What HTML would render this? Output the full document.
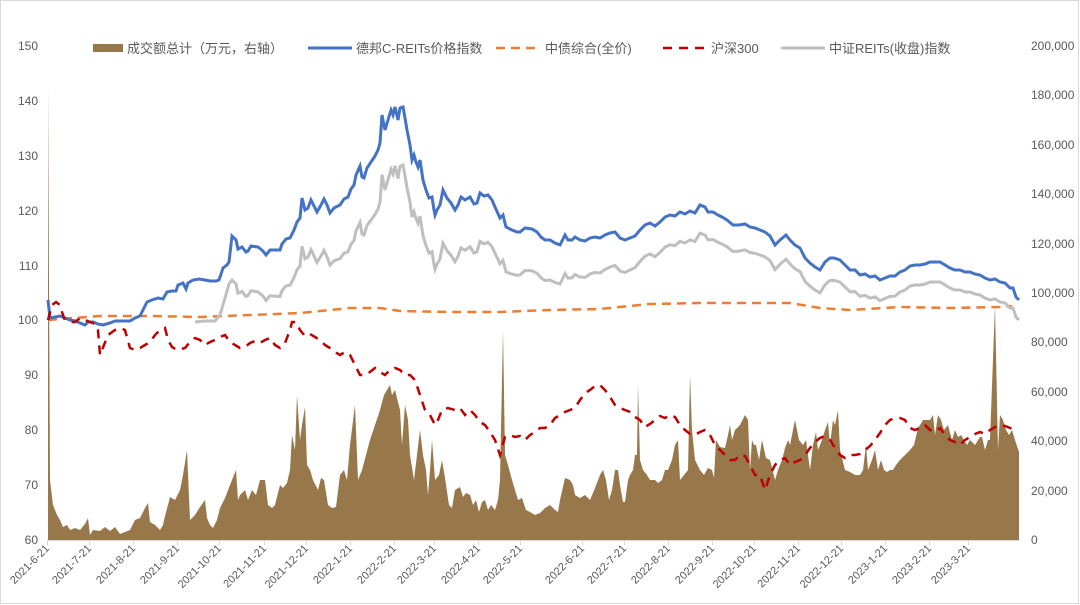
<!DOCTYPE html>
<html><head><meta charset="utf-8"><style>
html,body{margin:0;padding:0;background:#fff}
svg{display:block;font-family:"Liberation Sans","Noto Sans CJK SC",sans-serif}
</style></head><body>
<svg width="1080" height="605" viewBox="0 0 1080 605" xmlns="http://www.w3.org/2000/svg">
<rect x="0.5" y="0.5" width="1078" height="603" fill="#fff" stroke="#d9d9d9"/>
<g font-size="12" fill="#595959">
<text x="38" y="50" text-anchor="end">150</text>
<text x="38" y="105" text-anchor="end">140</text>
<text x="38" y="160" text-anchor="end">130</text>
<text x="38" y="215" text-anchor="end">120</text>
<text x="38" y="270" text-anchor="end">110</text>
<text x="38" y="324" text-anchor="end">100</text>
<text x="38" y="379" text-anchor="end">90</text>
<text x="38" y="434" text-anchor="end">80</text>
<text x="38" y="489" text-anchor="end">70</text>
<text x="38" y="544" text-anchor="end">60</text>
<text x="1031" y="50">200,000</text>
<text x="1031" y="99">180,000</text>
<text x="1031" y="149">160,000</text>
<text x="1031" y="198">140,000</text>
<text x="1031" y="248">120,000</text>
<text x="1031" y="297">100,000</text>
<text x="1031" y="346">80,000</text>
<text x="1031" y="396">60,000</text>
<text x="1031" y="445">40,000</text>
<text x="1031" y="495">20,000</text>
<text x="1031" y="544">0</text>
</g>
<polygon fill="#98784a" points="48,540 48,85 50,480 53,505 57,515 60,520 63,527 67,525 70,530 75,528 80,530 85,524 88,518 90,535 93,530 100,531 105,527 110,531 115,527 120,534 125,532 130,530 135,520 140,518 145,508 148,503 150,522 155,525 160,530 163,525 165,516 168,505 170,497 175,500 180,490 183,475 187,450 190,520 195,515 200,507 205,500 207,518 210,525 213,528 217,520 220,508 225,498 230,485 236,470 238,500 240,495 245,490 248,500 252,490 256,495 260,480 265,480 268,505 272,508 275,505 280,485 283,488 287,483 290,470 292,435 295,450 297,395 300,440 302,425 305,407 307,465 310,470 313,480 318,490 321,478 324,480 328,505 332,508 336,507 340,475 344,470 347,480 350,445 355,405 358,480 362,470 366,455 370,440 375,425 380,410 384,395 387,390 390,385 392,395 395,390 400,410 402,445 405,405 408,420 410,455 414,480 420,430 423,455 426,470 428,495 430,470 432,440 435,480 439,475 442,460 445,478 449,505 452,508 455,490 460,487 463,497 466,493 470,495 473,505 476,500 479,512 482,502 485,500 488,510 491,505 495,510 498,500 500,480 503,330 505,455 508,465 512,480 515,490 518,500 522,498 526,510 530,512 535,515 540,513 545,508 550,505 555,510 558,512 560,500 565,478 570,480 573,485 575,495 580,498 585,495 590,500 595,488 600,475 603,470 606,480 609,500 612,490 615,470 618,470 620,485 623,502 625,502 628,480 630,475 633,470 635,455 637,455 638,385 640,460 643,470 647,475 650,480 655,480 658,483 662,480 665,470 668,470 672,460 675,445 678,440 680,480 684,475 688,470 690,375 692,430 695,460 700,470 704,475 708,468 712,470 714,478 716,440 720,447 725,448 728,435 730,425 732,440 735,430 740,425 745,415 748,420 750,470 752,440 754,445 756,445 759,460 762,440 766,458 770,460 775,480 778,470 782,460 785,448 788,440 790,445 793,430 795,420 799,440 803,445 806,440 810,470 813,445 816,432 818,450 822,440 825,430 828,422 830,445 833,420 835,425 838,410 840,450 845,470 850,472 855,475 860,475 863,470 866,445 868,470 872,460 875,450 878,470 881,460 884,470 887,472 890,470 893,470 896,465 900,460 905,455 910,450 914,445 918,428 920,425 923,420 927,420 930,420 933,415 935,435 938,415 941,420 944,430 948,425 952,440 955,430 958,437 961,435 964,440 967,445 970,440 975,445 980,437 982,437 985,450 988,440 990,440 995,305 998,450 1000,415 1003,420 1006,430 1009,435 1012,430 1015,440 1019,452 1019,540"/>
<g stroke="#d9d9d9" stroke-width="1">
<line x1="48" y1="540.5" x2="1019" y2="540.5"/>
</g>
<g id="ticks" stroke="#d9d9d9"></g>
<polyline fill="none" stroke="#ed7d31" stroke-width="2.5" stroke-dasharray="9,6" points="48,320 100,316 150,316 200,317 250,315 300,313 350,308 380,308 400,311 450,312 500,312 550,310 600,309 650,304 700,303 750,303 790,303 820,308 850,310 900,307 950,308 1000,307 1012,306"/>
<polyline id="gray" fill="none" stroke="#bfbfbf" stroke-width="3"/>
<polyline id="blue" fill="none" stroke="#4472c4" stroke-width="3" points="48,300 50,318 55,317 60,316 65,318 70,320 75,321 80,323 85,325 88,322 93,322 98,324 103,325 110,323 115,321 125,321 130,321 135,318 140,316 143,310 147,302 152,300 158,298 163,299 167,292 172,291 176,291 178,285 183,283 186,289 188,283 193,280 199,279 205,280 210,281 216,281 219,280 223,268 227,265 229,262 232,236 236,240 238,249 242,247 246,252 248,251 251,246 258,247 263,251 266,255 270,250 280,250 282,244 286,239 290,238 294,230 297,222 300,218 302,198 305,210 308,208 311,200 314,206 317,212 321,205 324,199 327,205 330,213 334,208 340,205 344,199 348,197 351,189 354,185 356,175 360,166 362,177 364,178 367,168 371,162 375,156 378,150 380,143 382,115 385,130 388,120 391,110 393,115 395,107 398,120 400,108 403,107 405,118 407,130 410,145 412,160 414,155 416,162 418,167 420,160 423,180 426,190 429,198 432,197 434,210 435,215 437,210 440,205 443,190 447,198 451,203 455,210 458,205 461,197 465,200 470,197 474,204 477,203 480,193 484,196 488,195 492,200 495,207 500,218 503,215 506,227 512,230 517,232 520,232 525,228 532,229 537,232 541,237 545,240 550,240 555,243 560,245 565,235 568,240 572,240 575,237 580,240 585,241 590,238 595,237 600,238 605,235 610,233 615,232 620,238 625,240 630,238 635,236 640,230 645,225 650,223 655,226 660,222 665,217 670,215 675,216 680,212 685,214 690,211 695,213 700,205 705,207 708,212 713,212 718,215 722,217 727,220 733,225 739,225 745,224 750,227 755,228 760,230 765,232 770,236 775,245 780,240 786,235 790,240 795,245 800,248 805,258 810,263 815,267 820,270 825,262 830,258 834,258 840,260 845,265 850,270 855,270 860,275 865,274 870,277 875,276 880,280 885,278 890,276 895,276 900,272 905,270 910,266 915,265 920,265 925,264 930,262 935,262 940,262 945,265 950,268 955,270 960,270 965,272 970,272 975,274 980,275 985,278 990,280 995,279 1000,282 1005,283 1010,288 1013,288 1016,297 1019,300"/>
<polyline fill="none" stroke="#c00000" stroke-width="2.5" stroke-dasharray="9,7" points="48,320 52,305 56,302 60,305 62,312 64,318 70,322 75,322 80,318 85,320 90,322 95,324 98,330 100,355 104,345 108,335 115,330 120,328 125,330 130,348 135,350 140,348 145,345 150,342 155,335 160,330 165,328 168,340 172,347 177,350 185,348 190,342 195,338 200,340 205,345 210,342 215,340 220,337 225,335 230,342 235,345 240,348 245,347 250,343 255,341 260,343 265,340 270,338 275,345 280,348 285,343 290,330 292,322 296,322 300,330 305,336 310,334 315,337 320,340 325,345 330,348 335,352 340,355 345,352 350,355 355,365 360,375 365,375 370,372 375,368 380,372 385,375 390,370 395,368 400,370 405,375 410,375 415,380 420,395 425,410 430,415 435,425 438,420 442,410 448,408 455,410 460,408 465,415 470,410 475,415 480,422 485,425 490,432 495,440 500,455 505,437 510,435 515,437 520,436 525,440 530,435 535,432 540,428 545,428 550,425 555,418 560,415 565,412 570,410 575,408 580,400 585,393 590,390 595,386 600,385 605,390 610,397 615,405 620,408 625,410 630,412 635,417 640,420 645,427 650,424 655,420 660,416 665,418 670,415 675,417 680,425 685,430 690,434 695,435 700,432 705,430 710,435 715,445 720,450 725,455 730,460 735,460 740,455 745,456 750,465 755,475 760,475 765,490 770,475 775,465 780,460 785,458 790,465 795,462 800,460 805,455 810,448 815,442 820,438 825,436 830,440 835,448 840,455 845,458 850,455 855,455 860,454 865,450 870,446 875,440 880,433 885,425 890,420 895,418 900,418 905,420 910,428 915,430 920,428 925,425 930,430 935,432 940,428 945,435 950,440 955,442 960,445 965,440 970,437 975,434 980,432 985,434 990,430 995,427 1000,425 1005,426 1010,428 1015,430"/>
<g id="xl" font-size="11" fill="#595959"></g>
<g font-size="13" fill="#595959">
<rect x="93" y="44" width="30" height="8" fill="#98784a"/>
<text x="127" y="53">成交额总计（万元，右轴）</text>
<line x1="308" y1="48" x2="352" y2="48" stroke="#4472c4" stroke-width="3"/>
<text x="356" y="53">德邦C-REITs价格指数</text>
<line x1="496" y1="48" x2="540" y2="48" stroke="#ed7d31" stroke-width="2.5" stroke-dasharray="9,6"/>
<text x="545" y="53">中债综合(全价)</text>
<line x1="663" y1="48" x2="707" y2="48" stroke="#c00000" stroke-width="2.5" stroke-dasharray="9,7"/>
<text x="711" y="53">沪深300</text>
<line x1="781" y1="48" x2="825" y2="48" stroke="#bfbfbf" stroke-width="3"/>
<text x="829" y="53">中证REITs(收盘)指数</text>
</g>
</svg>
<script>
(function(){
var NS="http://www.w3.org/2000/svg";
var labels=[["2021-6-21",47],["2021-7-21",89],["2021-8-21",133],["2021-9-21",177],["2021-10-21",219],["2021-11-21",264],["2021-12-21",306],["2022-1-21",350],["2022-2-21",394],["2022-3-21",434],["2022-4-21",478],["2022-5-21",520],["2022-6-21",582],["2022-7-21",624],["2022-8-21",668],["2022-9-21",712],["2022-10-21",754],["2022-11-21",798],["2022-12-21",841],["2023-1-21",885],["2023-2-21",929],["2023-3-21",968]];
var xl=document.getElementById("xl"),tk=document.getElementById("ticks");
labels.forEach(function(l){
 var t=document.createElementNS(NS,"text");t.setAttribute("x",l[1]+3);t.setAttribute("y",549);
 t.setAttribute("text-anchor","end");t.setAttribute("transform","rotate(-45 "+(l[1]+3)+" 549)");t.textContent=l[0];xl.appendChild(t);
 var k=document.createElementNS(NS,"line");k.setAttribute("x1",l[1]+.5);k.setAttribute("x2",l[1]+.5);k.setAttribute("y1",540);k.setAttribute("y2",545);tk.appendChild(k);
});
var b=document.getElementById("blue").getAttribute("points").trim().split(/\s+/).map(function(p){return p.split(",").map(Number)});
var off=[[232,44],[260,45],[300,48],[385,60],[430,55],[520,43],[630,32],[760,25],[900,20],[1019,20]];
function o(x){for(var i=1;i<off.length;i++){if(x<=off[i][0]){var a=off[i-1],c=off[i];return a[1]+(c[1]-a[1])*(x-a[0])/(c[0]-a[0]);}}return 20;}
var pts=["195,322","205,321","215,321","220,315","225,298","229,284"];
b.forEach(function(p){if(p[0]>=232){var y=p[1]+o(p[0]);if(p[0]>=1013)y=Math.max(y,308+(p[0]-1013)*2);pts.push(p[0]+","+y.toFixed(1));}});
document.getElementById("gray").setAttribute("points",pts.join(" "));
})();
</script>
</body></html>
